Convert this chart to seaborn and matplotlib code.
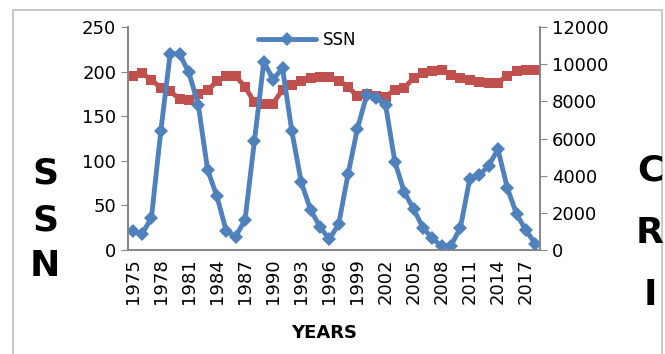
import matplotlib
matplotlib.use("Agg")
import matplotlib.pyplot as plt
import seaborn as sns
import pandas as pd
import numpy as np
from matplotlib.patches import Rectangle

years = list(range(1975, 2019))
ssn = [21, 18, 36, 133, 220, 220, 199, 163, 90, 60, 21, 15, 34, 122, 211, 191, 204,
       133, 76, 45, 26, 12, 29, 85, 136, 174, 170, 163, 99, 65, 46, 25, 13, 4, 5, 25,
       80, 84, 94, 113, 70, 40, 22, 7]
cri = [9350, 9500, 9170, 8720, 8540, 8130, 8090, 8420, 8600, 9080, 9390, 9350, 8780,
       7950, 7880, 7880, 8630, 8900, 9080, 9230, 9320, 9320, 9120, 8780, 8270, 8420,
       8310, 8240, 8630, 8720, 9260, 9530, 9620, 9710, 9440, 9260, 9140, 9050, 8960,
       8990, 9390, 9620, 9680, 9680]
tick_years = list(range(1975, 2019, 3))

df = pd.DataFrame({"Year": years, "SSN": ssn, "CRI": cri})

sns.set_style("white")
plt.rcParams['font.family'] = ['DejaVu Sans']
plt.rcParams['text.color'] = 'black'
plt.rcParams['xtick.color'] = 'black'
plt.rcParams['ytick.color'] = 'black'

fig = plt.figure(figsize=(6.65, 3.54), dpi=100)
ax = fig.add_axes([128/665, 1-250/354, (540-128)/665, (250-27)/354])
ax2 = ax.twinx()

blue = "#4F81BD"
red = "#C0504D"

sns.lineplot(data=df, x="Year", y="CRI", ax=ax2, color=red, lw=3.5, marker="s",
             markersize=7, markeredgewidth=0, legend=False)
sns.lineplot(data=df, x="Year", y="SSN", ax=ax, color=blue, lw=3.5, marker="D",
             markersize=7, markeredgewidth=0, label="SSN")
ax.set_zorder(ax2.get_zorder() + 1)
ax.patch.set_visible(False)

ax.set_xlim(1974.5, 2018.5)
ax.set_ylim(0, 250)
ax2.set_ylim(0, 12000)
ax.set_yticks(range(0, 251, 50))
ax2.set_yticks(range(0, 12001, 2000))
ax.set_xticks(tick_years)
ax.set_xticklabels([str(y) for y in tick_years], rotation=90, fontsize=13)
ax.set_xticks(np.arange(1974.5, 2019, 1), minor=True)
ax.tick_params(axis="x", which="major", length=0, pad=6, labelcolor="black")
ax.tick_params(axis="x", which="minor", length=5, color="#868686", direction="out")
ax.tick_params(axis="y", labelsize=13, length=5, color="#868686", direction="out",
               left=True, labelcolor="black")
ax2.tick_params(axis="y", labelsize=13, length=5, color="#868686", direction="out",
                right=True, labelcolor="black")
ax.set_xlabel("")
ax.set_ylabel("")
ax2.set_ylabel("")

for a in (ax, ax2):
    a.spines["top"].set_visible(False)
    for s in ["left", "right", "bottom"]:
        a.spines[s].set_color("#868686")
        a.spines[s].set_linewidth(1.2)

leg = ax.legend(loc="center", bbox_to_anchor=(307/665, 1-40/354),
                bbox_transform=fig.transFigure, frameon=False, fontsize=12,
                handlelength=3.5, handletextpad=0.4)
for t in leg.get_texts():
    t.set_color("black")

fig.text(324/665, 1-333/354, "YEARS", ha="center", va="center", fontsize=13,
         fontweight="bold", color="black")
fig.text(45/665, 1-220/354, "S\nS\nN", ha="center", va="center", fontsize=26,
         fontweight="bold", linespacing=1.45, color="black")
fig.text(650/665, 1-233/354, "C\nR\nI", ha="center", va="center", fontsize=26,
         fontweight="bold", linespacing=2.05, color="black")

fig.patches.append(Rectangle((13/665, -0.1), (662-13)/665, 1.1 - 10/354,
                             transform=fig.transFigure, fill=False,
                             edgecolor="#BFBFBF", lw=1.2))

fig.savefig("out.png", dpi=100)
